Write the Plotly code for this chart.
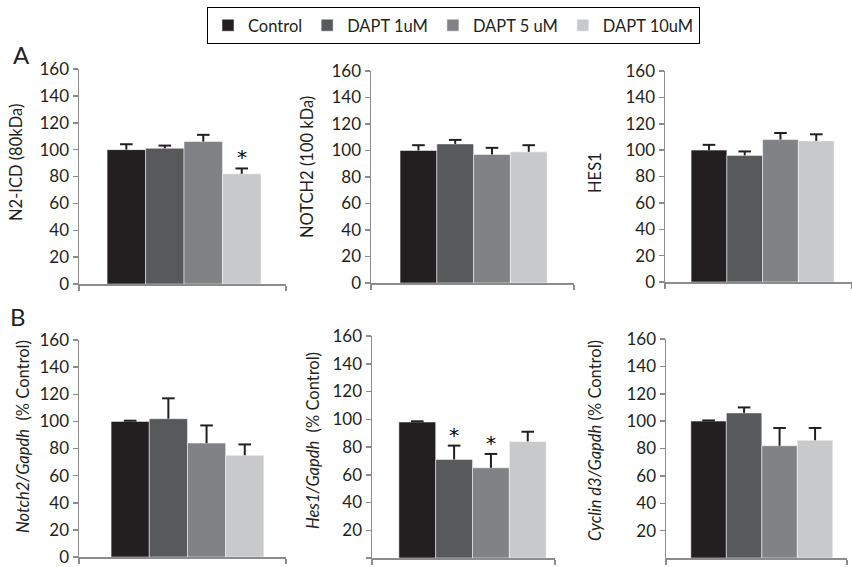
import plotly.graph_objects as go

W, H = 852, 567

groups = ["Control", "DAPT 1uM", "DAPT 5 uM", "DAPT 10uM"]
colors = ["#231f20", "#58595b", "#808285", "#c8c9cb"]

n2icd = [100, 101, 106, 82]
n2icd_err = [4, 2, 5, 4]
notch2_prot = [100, 105, 97, 99]
notch2_prot_err = [4, 3, 5, 5]
hes1_prot = [100, 96, 108, 107]
hes1_prot_err = [4, 3, 5, 5]
notch2_mrna = [100, 102, 84, 75]
notch2_mrna_err = [0.5, 15, 13, 8]
hes1_mrna = [98, 71, 65, 84]
hes1_mrna_err = [0.5, 10, 10, 7]
cyclin_mrna = [100, 106, 82, 86]
cyclin_mrna_err = [0.5, 4, 13, 9]

n2icd_sig = [False, False, False, True]
notch2_prot_sig = [False] * 4
hes1_prot_sig = [False] * 4
notch2_mrna_sig = [False] * 4
hes1_mrna_sig = [False, True, True, False]
cyclin_mrna_sig = [False] * 4

ytick_vals = [0, 20, 40, 60, 80, 100, 120, 140, 160]
ytick_vals_no0 = [20, 40, 60, 80, 100, 120, 140, 160]

# panel layout in pixels: x0, x1, ytop, ybottom, xrange
panels = [
    dict(vals=n2icd, err=n2icd_err, sig=n2icd_sig, px=(79, 286), py=(69, 284), xr=(-1.23, 4.15),
         title="N2-ICD (80kDa)", tpos=(16, 163), ticks=ytick_vals),
    dict(vals=notch2_prot, err=notch2_prot_err, sig=notch2_prot_sig, px=(371, 574), py=(71, 283), xr=(-1.29, 4.23),
         title="NOTCH2 (100 kDa)", tpos=(307, 167), ticks=ytick_vals),
    dict(vals=hes1_prot, err=hes1_prot_err, sig=hes1_prot_sig, px=(665, 852), py=(71, 282), xr=(-1.23, 4.0),
         title="HES1", tpos=(595, 173), ticks=ytick_vals),
    dict(vals=notch2_mrna, err=notch2_mrna_err, sig=notch2_mrna_sig, px=(79, 286), py=(340, 557), xr=(-1.34, 4.08),
         title="<i>Notch2/Gapdh</i>  (% Control)", tpos=(23, 437), ticks=ytick_vals),
    dict(vals=hes1_mrna, err=hes1_mrna_err, sig=hes1_mrna_sig, px=(372, 555), py=(336, 558), xr=(-1.23, 3.74),
         title="<i>Hes1/Gapdh</i>  (% Control)", tpos=(313, 441), ticks=ytick_vals),
    dict(vals=cyclin_mrna, err=cyclin_mrna_err, sig=cyclin_mrna_sig, px=(666, 847), py=(339, 558), xr=(-1.2, 3.9),
         title="<i>Cyclin d3/Gapdh</i> (% Control)", tpos=(595, 441), ticks=ytick_vals_no0),
]

FONT = "Lato, 'Open Sans', Arial, sans-serif"
TXT = "#231f20"
AXC = "#8c8c8c"

fig = go.Figure()
layout = {}
annotations = []

for k, p in enumerate(panels):
    sfx = "" if k == 0 else str(k + 1)
    xa, ya = "x" + sfx, "y" + sfx
    xs = list(range(len(groups)))
    for i, g in enumerate(groups):
        fig.add_trace(go.Bar(
            x=[xs[i]], y=[p["vals"][i]], name=g, width=1,
            marker=dict(color=colors[i], line=dict(color="white", width=0.5)),
            xaxis=xa, yaxis=ya, showlegend=(k == 0), legendgroup=g,
            hoverinfo="skip"))
    # error bars (upper only)
    ex, ey, cx, cy = [], [], [], []
    for i in range(len(groups)):
        top = p["vals"][i] + p["err"][i]
        ex += [xs[i], xs[i], None]
        ey += [p["vals"][i], top, None]
        cx.append(xs[i])
        cy.append(top)
    fig.add_trace(go.Scatter(x=ex, y=ey, mode="lines", line=dict(color=TXT, width=2),
                             xaxis=xa, yaxis=ya, showlegend=False, hoverinfo="skip"))
    fig.add_trace(go.Scatter(x=cx, y=cy, mode="markers",
                             marker=dict(symbol="line-ew", size=9, line=dict(color=TXT, width=2)),
                             xaxis=xa, yaxis=ya, showlegend=False, hoverinfo="skip"))
    for i in range(len(groups)):
        if p["sig"][i]:
            annotations.append(dict(x=xs[i], y=p["vals"][i] + p["err"][i], xref=xa, yref=ya,
                                    text="*", showarrow=False, yanchor="bottom", yshift=-3,
                                    font=dict(family="DejaVu Sans", size=20, color="#000000")))
    x0, x1 = p["px"]
    yt, yb = p["py"]
    lk = "xaxis" + sfx
    lyk = "yaxis" + sfx
    layout[lk] = dict(domain=[x0 / W, x1 / W], range=list(p["xr"]), anchor=ya,
                      showline=True, linecolor=AXC, linewidth=1.5, showgrid=False, zeroline=False,
                      tickvals=list(p["xr"]), ticktext=["", ""], ticks="outside", ticklen=5,
                      tickcolor=AXC, tickwidth=1.5, fixedrange=True)
    layout[lyk] = dict(domain=[1 - yb / H, 1 - yt / H], range=[0, 160], anchor=xa,
                       showline=True, linecolor=AXC, linewidth=1.5, showgrid=False, zeroline=False,
                       tickvals=p["ticks"], ticks="outside", ticklen=5, tickcolor=AXC, tickwidth=1.5,
                       tickfont=dict(family=FONT, size=17, color=TXT), fixedrange=True)
    annotations.append(dict(x=p["tpos"][0] / W, y=1 - p["tpos"][1] / H, xref="paper", yref="paper",
                            text=p["title"], textangle=-90, showarrow=False,
                            xanchor="center", yanchor="middle",
                            font=dict(family=FONT, size=16.5, color=TXT)))

annotations.append(dict(x=21 / W, y=1 - 54 / H, xref="paper", yref="paper", text="A", showarrow=False,
                        xanchor="center", yanchor="middle", font=dict(family=FONT, size=24, color=TXT)))
annotations.append(dict(x=18 / W, y=1 - 316 / H, xref="paper", yref="paper", text="B", showarrow=False,
                        xanchor="center", yanchor="middle", font=dict(family=FONT, size=24, color=TXT)))

fig.update_layout(
    width=W, height=H,
    margin=dict(l=0, r=0, t=0, b=0, autoexpand=False),
    paper_bgcolor="white", plot_bgcolor="white",
    bargap=0, barmode="overlay",
    legend=dict(orientation="h", x=207 / W, y=1 - 7 / H, xanchor="left", yanchor="top",
                bordercolor="#000000", borderwidth=1, bgcolor="white",
                font=dict(family=FONT, size=16.5, color=TXT), traceorder="normal",
                tracegroupgap=0, itemwidth=30, entrywidth=0),
    annotations=annotations,
    **layout,
)

fig.write_html("out.html", config={"displayModeBar": False, "staticPlot": True},
               post_script="document.body.style.margin='0';document.body.style.overflow='hidden';")
